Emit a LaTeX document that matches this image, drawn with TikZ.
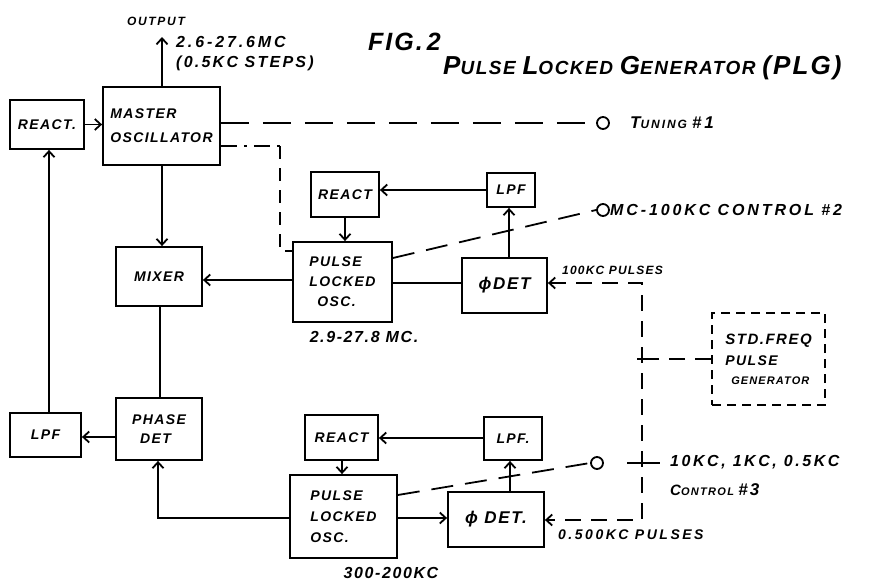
\documentclass[tikz,border=0pt]{standalone}
\usepackage{fontspec}
\setmainfont{Liberation Sans}
\usetikzlibrary{arrows.meta}
\newcommand\fsz[1]{\fontsize{#1}{#1}\selectfont\bfseries\itshape\addfontfeature{LetterSpace=10}}
\newcommand\fsw[2]{\fontsize{#1}{#1}\selectfont\bfseries\itshape\addfontfeature{LetterSpace=#2}}
\newcommand\fst[1]{\fontsize{#1}{#1}\selectfont\bfseries\itshape\addfontfeature{LetterSpace=8}}
\begin{document}
\begin{tikzpicture}[x=1pt,y=-1pt,
  every node/.style={inner sep=0pt},
  box/.style={draw,line width=1.8pt,rectangle,align=left,font=\fsz{14}},
  dbox/.style={box,dashed,dash pattern=on 9pt off 6pt},
  wire/.style={line width=1.8pt},
  arr/.style={wire,-{Straight Barb[length=6pt,width=11pt,line width=1.8pt]}},
  dwire/.style={wire,dash pattern=on 16pt off 10pt},
  term/.style={draw,circle,line width=1.8pt,minimum size=12pt},
  lab/.style={anchor=west,align=left}
]
\useasboundingbox[fill=white] (0,0) rectangle (889,581);

% boxes
\node[box,minimum width=74pt,minimum height=49pt] (reactL) at (47,124.5) {REACT.};
\node[box,minimum width=117pt,minimum height=78pt] (mo) at (161.5,126) {MASTER\\[10pt]OSCILLATOR};
\node[box,minimum width=68pt,minimum height=45pt] (reactU) at (345,194.5) {REACT};
\node[box,minimum width=48pt,minimum height=34pt] (lpfU) at (511,190) {LPF};
\node[box,minimum width=99pt,minimum height=80pt] (ploU) at (342.5,282) {PULSE\\[6pt]LOCKED\\[6pt]\hspace*{8pt}OSC.};
\node[box,minimum width=85pt,minimum height=55pt,font=\fsz{17}] (detU) at (504.5,285.5) {ϕDET};
\node[box,minimum width=86pt,minimum height=59pt] (mixer) at (159,276.5) {MIXER};
\node[box,minimum width=86pt,minimum height=62pt] (phase) at (159,429) {PHASE\\[5pt]\hspace*{8pt}DET};
\node[box,minimum width=71pt,minimum height=44pt] (lpfL) at (45.5,435) {LPF};
\node[box,minimum width=73pt,minimum height=45pt] (reactL2) at (341.5,437.5) {REACT};
\node[box,minimum width=58pt,minimum height=43pt] (lpfL2) at (513,438.5) {LPF.};
\node[box,minimum width=107pt,minimum height=83pt] (ploL) at (343.5,516.5) {PULSE\\[7pt]LOCKED\\[7pt]OSC.};
\node[box,minimum width=96pt,minimum height=55pt,font=\fsz{17}] (detL) at (496,519.5) {ϕ DET.};
\node[dbox,minimum width=113pt,minimum height=92pt] (std) at (768.5,359) {\fsz{15}STD.FREQ\\[7pt]PULSE\\[5pt]\hspace*{6pt}{\fsz{11}GENERATOR}};

% terminals
\node[term] (t1) at (603,123) {};
\node[term] (t2) at (603,210) {};
\node[term] (t3) at (597,463) {};

% coordinates
\coordinate (out) at (162,37);
\coordinate (dd1) at (280,146);
\coordinate (dd2) at (280,251);
\coordinate (pt) at (642,283);
\coordinate (pb) at (642,520);
\coordinate (pm) at (642,359);
\coordinate (k1) at (627,463);
\coordinate (k2) at (660,463);
\coordinate (pl) at (158,518);

% connectors
\draw[arr] (mo.north -| out) -- (out);
\draw[arr] (reactL.east) -- (reactL.east -| mo.west);
\draw[wire,dash pattern=on 28pt off 14pt] (mo.east |- t1) -- (t1.west);
\draw[wire,dash pattern=on 16pt off 7pt on 3pt off 7pt] (mo.east |- dd1) -- (dd1);
\draw[wire,dash pattern=on 13pt off 9pt] (dd1) -- (dd2) -- (dd2 -| ploU.west);
\draw[arr] (mo.south -| out) -- (mixer.north -| out);
\draw[arr] (reactU.south) -- (ploU.north -| reactU.south);
\draw[arr] (lpfU.west) -- (lpfU.west -| reactU.east);
\draw[arr] (detU.north -| 509,0) -- (lpfU.south -| 509,0);
\draw[wire] (ploU.east |- 0,283) -- (detU.west |- 0,283);
\draw[arr] (ploU.west |- 0,280) -- (mixer.east |- 0,280);
\draw[wire,dash pattern=on 22pt off 12pt] (ploU.east |- 0,258) -- (t2.west);
\draw[dwire,
  {Straight Barb[length=6pt,width=11pt,line width=1.8pt]}-{Straight Barb[length=6pt,width=11pt,line width=1.8pt]}]
  (detU.east |- pt) -- (pt) -- (pb) -- (detL.east |- pb);
\draw[dwire] (std.west |- pm) -- (pm);
\draw[wire] (pm) -- ++(-5,0);
\draw[wire] (mixer.south -| 160,0) -- (phase.north -| 160,0);
\draw[arr] (phase.west |- 0,437) -- (lpfL.east |- 0,437);
\draw[arr] (lpfL.north -| 49,0) -- (reactL.south -| 49,0);
\draw[arr] (reactL2.south -| 342,0) -- (ploL.north -| 342,0);
\draw[arr] (lpfL2.west |- 0,438) -- (reactL2.east |- 0,438);
\draw[arr] (detL.north -| 510,0) -- (lpfL2.south -| 510,0);
\draw[arr] (ploL.east |- 0,518) -- (detL.west |- 0,518);
\draw[arr] (ploL.west |- pl) -- (pl) -- (phase.south -| pl);
\draw[wire,dash pattern=on 22pt off 12pt] (ploL.east |- 0,495) -- (t3.west);
\draw[wire] (k1) -- (k2);

% labels
\node[font=\fsw{12}{14}] (lout) at (156,21) {OUTPUT};
\node[lab,font=\fsw{16}{18}] (lfreq) at (176,42) {2.6-27.6MC};
\node[lab,font=\fsw{16}{14}] (lsteps) at (176,63) {(0.5KC STEPS)};
\node[lab,font=\fst{25}] (lfig) at (368,42) {FIG.\,2};
\node[lab] (ltitle) at (443,68) {\fst{26}P\fst{19}ULSE \fst{26}L\fst{19}OCKED \fst{26}G\fst{19}ENERATOR \fst{26}(PLG)};
\node[lab] (ltun) at (630,123) {\fsw{17}{16}T\fsw{12}{16}UNING \fsw{17}{16}\#1};
\node[lab,font=\fsw{16}{18}] (lc2) at (610,210) {MC-100KC CONTROL \#2};
\node[lab,font=\fsw{12}{10}] (lp1) at (562,270) {100KC PULSES};
\node[lab,font=\fsw{14}{18}] (lp2) at (558,535) {0.500KC PULSES};
\node[font=\fsz{16}] (lmc) at (364,337) {2.9-27.8 MC.};
\node[font=\fsz{16}] (lkc) at (391,573) {300-200KC};
\node[lab,font=\fsw{16}{16}] (lc3a) at (670,462) {10KC, 1KC, 0.5KC};
\node[lab] (lc3b) at (670,490) {\fsw{15}{12}C\fsw{11}{12}ONTROL \fsw{17}{12}\#3};
\end{tikzpicture}
\end{document}
